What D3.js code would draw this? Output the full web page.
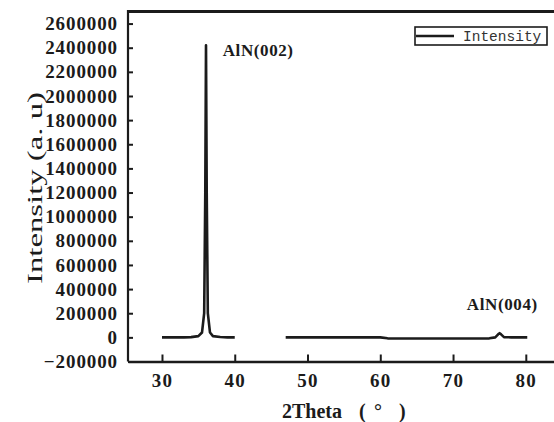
<!DOCTYPE html>
<html>
<head>
<meta charset="utf-8">
<script src="https://cdn.jsdelivr.net/npm/d3@7"></script>
<style>
  html, body { margin: 0; padding: 0; background: #fff; }
  svg { display: block; }
</style>
</head>
<body>
<svg id="chart" width="554" height="422"></svg>
<script>
// ---- data ----
const twoTheta = [30, 31, 32, 33, 34, 35, 35.5, 35.8, 35.95, 36.05, 36.15, 36.3, 36.6, 37, 38, 39, 40,
                  null,
                  47, 50, 55, 60, 61, 65, 70, 75, 75.8, 76.2, 76.4, 76.6, 77, 78, 80.2];
const intensity = [0, 0, 0, 0, 2000, 10000, 40000, 200000, 1200000, 2420000, 1200000, 200000, 40000, 10000, 3000, 0, 0,
                   null,
                   0, 0, 0, 0, -8000, -10000, -10000, -8000, 0, 25000, 35000, 25000, 2000, 0, 0];
const xTicks = [30, 40, 50, 60, 70, 80];
const yTicks = [-200000, 0, 200000, 400000, 600000, 800000, 1000000, 1200000, 1400000,
                1600000, 1800000, 2000000, 2200000, 2400000, 2600000];
const peakLabels = ["AlN(002)", "AlN(004)"];
const peakLabelX = [38.35, 71.9];
const peakLabelY = [2330000, 230000];
const seriesName = "Intensity";
const xTitleParts = ["2Theta", "(", "°", ")"];
const yTitle = "Intensity (a. u)";

// ---- layout ----
const padL = 128, padT = 11.5, padB = 361.5, padR = 556;
const ink = "#1b1b1b";
const svg = d3.select("#chart");

const x = d3.scaleLinear().domain([25.33, 84.15]).range([padL, padR]);
const y = d3.scaleLinear().domain([-200000, 2700000]).range([padB, padT]);

// top border (right side is cut off in the original)
svg.append("line")
  .attr("x1", padL).attr("x2", padR).attr("y1", padT).attr("y2", padT)
  .attr("stroke", ink).attr("stroke-width", 3);

// y axis
const yAxis = svg.append("g")
  .attr("transform", `translate(${padL},0)`)
  .call(d3.axisLeft(y).tickValues(yTicks).tickFormat(d3.format("d"))
        .tickSizeInner(-5).tickSizeOuter(0).tickPadding(10));
yAxis.select(".domain").attr("stroke", ink).attr("stroke-width", 2.2)
  .attr("d", `M0,${padT - 1.5}V${padB}`);
yAxis.selectAll(".tick line").attr("stroke", ink).attr("stroke-width", 2);
yAxis.selectAll(".tick text")
  .attr("fill", ink)
  .style("font-family", "'Liberation Serif', serif")
  .style("font-weight", "bold")
  .style("font-size", "19px")
  .style("letter-spacing", "0.9px");

// x axis
const xAxis = svg.append("g")
  .attr("transform", `translate(0,${padB})`)
  .call(d3.axisBottom(x).tickValues(xTicks).tickFormat(d3.format("d"))
        .tickSizeInner(-7).tickSizeOuter(0).tickPadding(12));
xAxis.select(".domain").attr("stroke", ink).attr("stroke-width", 2.6);
xAxis.selectAll(".tick line").attr("stroke", ink).attr("stroke-width", 2);
xAxis.selectAll(".tick text")
  .attr("fill", ink)
  .style("font-family", "'Liberation Serif', serif")
  .style("font-weight", "bold")
  .style("font-size", "19px")
  .style("letter-spacing", "1.2px");

// data line
const pts = twoTheta.map((t, i) => [t, intensity[i]]);
const line = d3.line()
  .defined(d => d[0] !== null && d[1] !== null)
  .x(d => x(d[0])).y(d => y(d[1]));
svg.append("path")
  .datum(pts)
  .attr("fill", "none")
  .attr("stroke", ink)
  .attr("stroke-width", 2.6)
  .attr("stroke-linejoin", "round")
  .attr("d", line);

// peak annotations
svg.selectAll("text.peak")
  .data(peakLabels)
  .enter().append("text")
  .attr("class", "peak")
  .attr("x", (d, i) => x(peakLabelX[i]))
  .attr("y", (d, i) => y(peakLabelY[i]))
  .attr("fill", ink)
  .style("font-family", "'Liberation Serif', serif")
  .style("font-weight", "bold")
  .style("font-size", "17px")
  .style("letter-spacing", "0.6px")
  .text(d => d);

// legend
const lg = svg.append("g").attr("transform", "translate(415,27)");
lg.append("rect").attr("width", 132).attr("height", 18)
  .attr("fill", "#fff").attr("stroke", ink).attr("stroke-width", 1.6);
lg.append("line").attr("x1", 1).attr("x2", 39).attr("y1", 9).attr("y2", 9)
  .attr("stroke", ink).attr("stroke-width", 2.6);
lg.append("text").attr("x", 48).attr("y", 14)
  .attr("fill", "#333")
  .style("font-family", "'Liberation Mono', monospace")
  .style("font-size", "14.5px")
  .text(seriesName);

// axis titles
const xTitlePos = [282, 359, 374, 399];
const xt = svg.append("text")
  .attr("y", 418)
  .attr("fill", ink)
  .style("font-family", "'Liberation Serif', serif")
  .style("font-weight", "bold")
  .style("font-size", "20px");
xt.selectAll("tspan").data(xTitleParts).enter().append("tspan")
  .attr("x", (d, i) => xTitlePos[i])
  .text(d => d);

svg.append("text")
  .attr("transform", "translate(42,188) rotate(-90)")
  .attr("text-anchor", "middle")
  .attr("fill", ink)
  .attr("textLength", 192)
  .attr("lengthAdjust", "spacingAndGlyphs")
  .style("font-family", "'Liberation Serif', serif")
  .style("font-size", "21px")
  .text(yTitle);
</script>
</body>
</html>
